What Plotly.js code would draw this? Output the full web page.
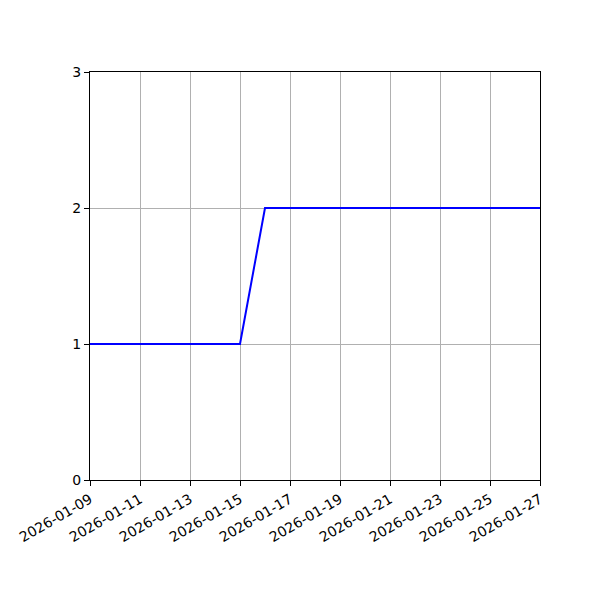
<!DOCTYPE html>
<html>
<head>
<meta charset="utf-8">
<script src="https://cdn.plot.ly/plotly-3.0.1.min.js"></script>
<style>
  body { margin: 0; background: #fff; }
  #chart { width: 600px; height: 600px; }
</style>
</head>
<body>
<div id="chart"></div>
<script>
var dates = [
  '2026-01-09', '2026-01-10', '2026-01-11', '2026-01-12', '2026-01-13',
  '2026-01-14', '2026-01-15', '2026-01-16', '2026-01-17', '2026-01-18',
  '2026-01-19', '2026-01-20', '2026-01-21', '2026-01-22', '2026-01-23',
  '2026-01-24', '2026-01-25', '2026-01-26', '2026-01-27'
];
var values = [1, 1, 1, 1, 1, 1, 1, 2, 2, 2, 2, 2, 2, 2, 2, 2, 2, 2, 2];
var tickDates = [
  '2026-01-09', '2026-01-11', '2026-01-13', '2026-01-15', '2026-01-17',
  '2026-01-19', '2026-01-21', '2026-01-23', '2026-01-25', '2026-01-27'
];
var yTicks = [0, 1, 2, 3];

var trace = {
  x: dates,
  y: values,
  type: 'scatter',
  mode: 'lines',
  line: { color: '#0000ff', width: 2 },
  hoverinfo: 'skip'
};

var axisCommon = {
  showline: true,
  linecolor: '#000',
  linewidth: 1,
  mirror: true,
  ticks: 'outside',
  ticklen: 5,
  tickwidth: 1,
  tickcolor: '#000',
  showgrid: true,
  gridcolor: '#b0b0b0',
  gridwidth: 1,
  zeroline: false
};

var layout = {
  width: 600,
  height: 600,
  paper_bgcolor: '#fff',
  plot_bgcolor: '#fff',
  font: { family: 'DejaVu Sans', size: 14, color: '#000' },
  margin: { l: 90, r: 60, t: 72, b: 120, pad: 0 },
  showlegend: false,
  xaxis: Object.assign({}, axisCommon, {
    type: 'date',
    range: ['2026-01-09', '2026-01-27'],
    tickmode: 'array',
    tickvals: tickDates,
    ticktext: tickDates,
    tickangle: -30
  }),
  yaxis: Object.assign({}, axisCommon, {
    range: [0, 3],
    tickmode: 'array',
    tickvals: yTicks,
    ticktext: yTicks.map(String)
  })
};

Plotly.newPlot('chart', [trace], layout, { displayModeBar: false, staticPlot: true });
</script>
</body>
</html>
